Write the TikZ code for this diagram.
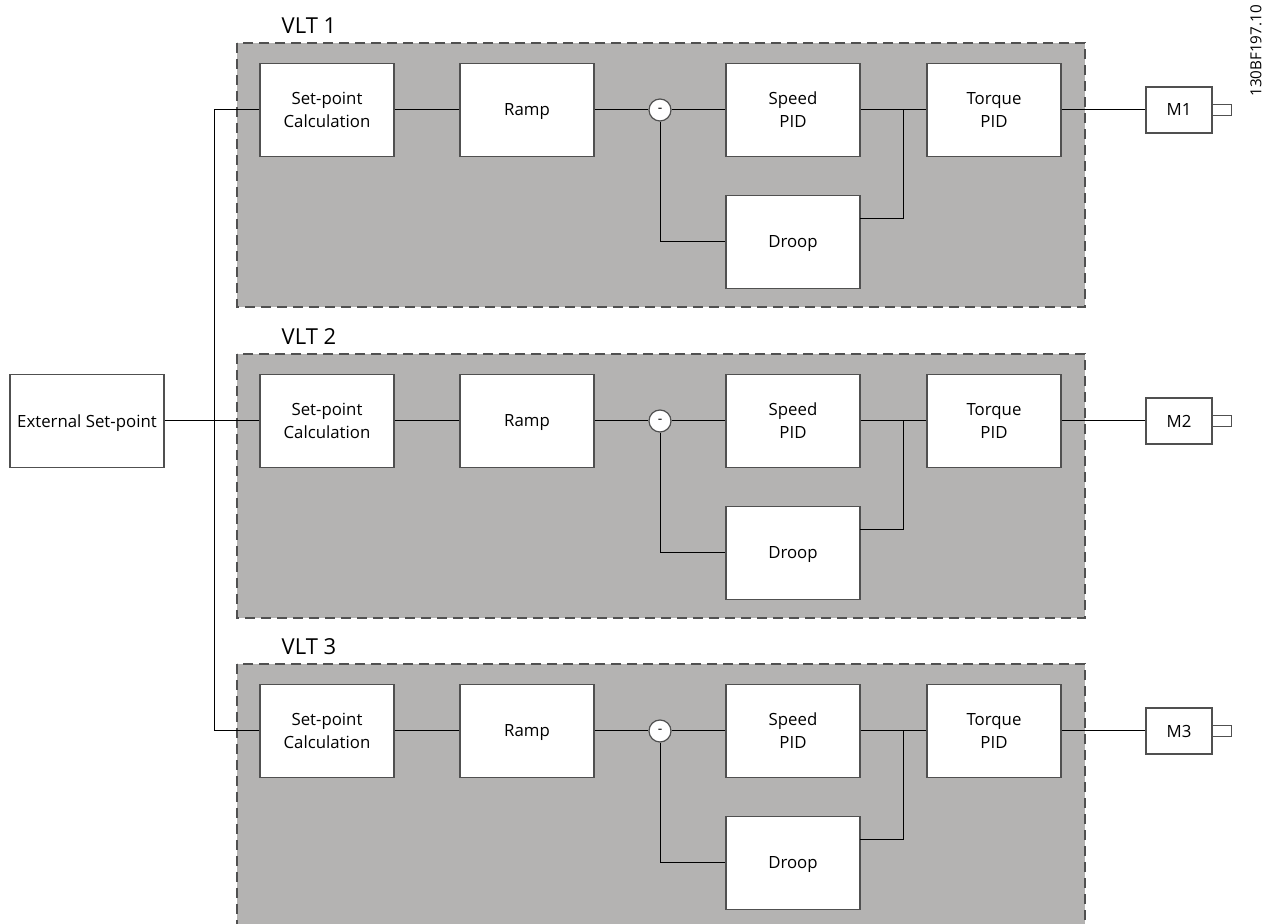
\documentclass[tikz,border=0pt]{standalone}
\usepackage{fontspec}
\setmainfont{Open Sans}
\usetikzlibrary{positioning}

\definecolor{panelgray}{RGB}{180,179,178}
\definecolor{edgegray}{RGB}{80,80,80}
\tikzset{
    blk/.style={draw=edgegray, fill=white, line width=0.7pt, minimum width=67pt, minimum height=46.5pt,
        align=center, inner sep=1pt, text depth=0pt, font=\fontsize{8.4}{11.5}\selectfont},
    mot/.style={blk, minimum width=33pt, minimum height=23pt},
    sumc/.style={circle, draw=edgegray, fill=white, line width=0.6pt, minimum size=11pt, inner sep=0pt,
        font=\fontsize{7}{8}\selectfont},
    panel/.style={draw=edgegray, fill=panelgray, line width=0.6pt, dash pattern=on 5pt off 3pt},
    wire/.style={line width=0.5pt},
    vlt/.style={font=\fontsize{11}{12}\selectfont, inner sep=0pt}
}

\begin{document}
\begin{tikzpicture}[x=0.5pt, y=-0.5pt]
\useasboundingbox (0,0) rectangle (1266,924);
\node[blk, minimum width=77pt] (ext) at (87,421) {External Set-point};
\coordinate (bus) at (214,421);
\foreach \i/\dy in {1/0,2/311,3/621} {
    \draw[panel] (237,43+\dy) rectangle (1085,307+\dy);
    \node[vlt] (lbl\i) at (309,26+\dy) {VLT \i};
    \node[blk] (sc\i) at (327,110+\dy) {Set-point\\Calculation};
    \node[blk] (rp\i) at (527,110+\dy) {Ramp};
    \node[sumc] (sum\i) at (660,110+\dy) {-};
    \node[blk] (sp\i) at (793,110+\dy) {Speed\\PID};
    \node[blk] (dr\i) at (793,242+\dy) {Droop};
    \node[blk] (tq\i) at (994,110+\dy) {Torque\\PID};
    \node[mot] (m\i) at (1179,110+\dy) {M\i};
    \draw[edgegray, line width=0.6pt] (m\i.east) ++(0,-5.5) rectangle ++(19,11);
    \coordinate (j\i) at (903,110+\dy);
    \coordinate (do\i) at (860,219+\dy);
    \draw[wire] (sc\i) -- (rp\i) -- (sum\i) -- (sp\i) -- (tq\i) -- (m\i);
    \draw[wire] (sum\i) |- (dr\i);
    \draw[wire] (j\i) |- (do\i);
    \draw[wire] (bus |- sc\i) -- (sc\i);
}
\draw[wire] (ext) -- (sc2);
\draw[wire] (bus |- sc1) -- (bus |- sc3);
\node[rotate=90, anchor=west, inner sep=0pt, font=\fontsize{7.6}{9}\selectfont] (code) at (1256,97) {130BF197.10};
\end{tikzpicture}
\end{document}
